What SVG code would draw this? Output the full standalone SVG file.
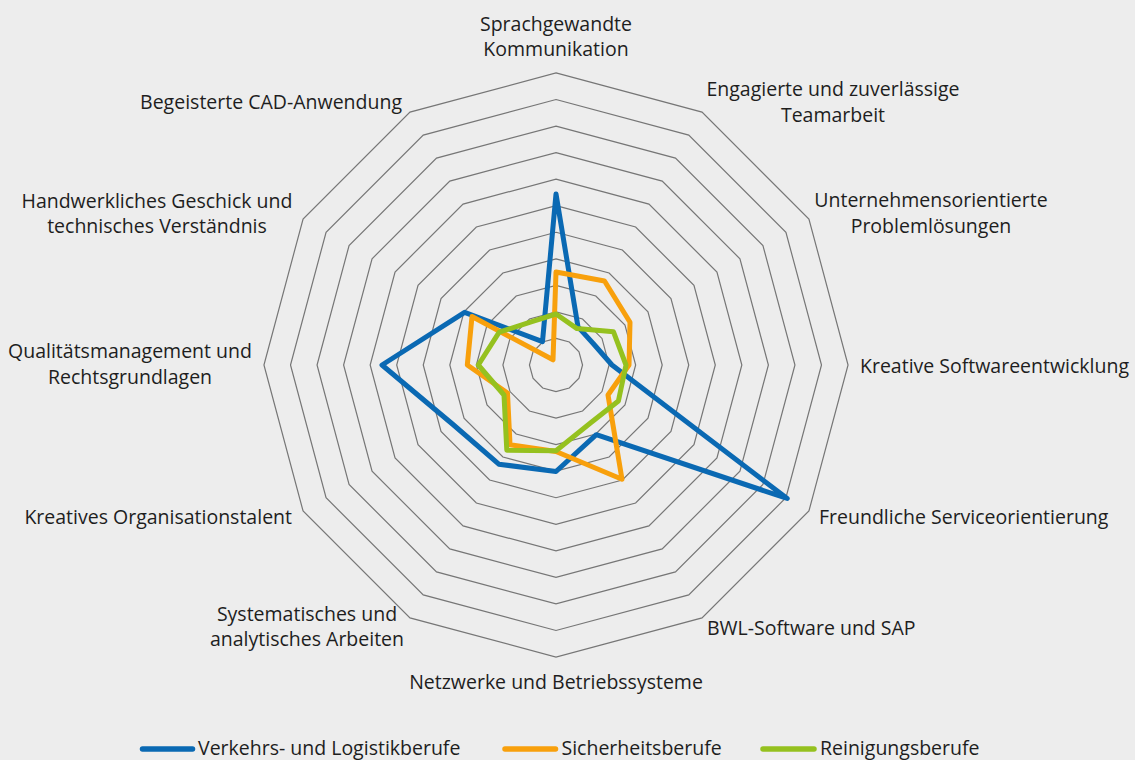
<svg xmlns="http://www.w3.org/2000/svg" xmlns:xlink="http://www.w3.org/1999/xlink" width="1135" height="760" viewBox="0 0 1135 760">
  <style>
    .lbl { font-family: "Open Sans", "Liberation Sans", sans-serif; font-size: 19.5px; fill: #1e1e1e; }
    .mid { text-anchor: middle; }
    .end { text-anchor: end; }
    .ring { fill: none; stroke: #767676; stroke-width: 1.2; vector-effect: non-scaling-stroke; }
    .series { fill: none; stroke-width: 5; stroke-linejoin: round; stroke-linecap: round; }
    .blue { stroke: #0a69b3; }
    .orange { stroke: #f8a00c; }
    .green { stroke: #95c11f; }
    .key { stroke-width: 5.5; stroke-linecap: round; }
  </style>
  <defs>
    <polygon id="dodeca" class="ring" points="0,-100 50,-86.603 86.603,-50 100,0 86.603,50 50,86.603 0,100 -50,86.603 -86.603,50 -100,0 -86.603,-50 -50,-86.603"/>
  </defs>
  <rect x="0" y="0" width="1135" height="760" fill="#ededed"/>

  <g id="grid">
    <use xlink:href="#dodeca" transform="translate(556,365) scale(0.2655)"/>
    <use xlink:href="#dodeca" transform="translate(556,365) scale(0.531)"/>
    <use xlink:href="#dodeca" transform="translate(556,365) scale(0.7965)"/>
    <use xlink:href="#dodeca" transform="translate(556,365) scale(1.062)"/>
    <use xlink:href="#dodeca" transform="translate(556,365) scale(1.3275)"/>
    <use xlink:href="#dodeca" transform="translate(556,365) scale(1.593)"/>
    <use xlink:href="#dodeca" transform="translate(556,365) scale(1.8585)"/>
    <use xlink:href="#dodeca" transform="translate(556,365) scale(2.124)"/>
    <use xlink:href="#dodeca" transform="translate(556,365) scale(2.3895)"/>
    <use xlink:href="#dodeca" transform="translate(556,365) scale(2.655)"/>
    <use xlink:href="#dodeca" transform="translate(556,365) scale(2.9205)"/>
  </g>

  <g id="connectors">
    <polygon id="series-verkehr" class="series blue" points="556,194 578,326.9 593.2,343.5 612,365 787.2,498.5 596.3,434.7 556,471.5 498.8,464.2 453,424.5 382,365 464.6,312.3 542.5,341.6"/>
    <polygon id="series-sicherheit" class="series orange" points="556,272 604.5,281 630,322.3 629,365 608,395 622,479.3 556,451.5 510,444.7 507.5,393 467.3,365 472,316.5 553,359.8"/>
    <polygon id="series-reinigung" class="series green" points="556,314 577,328.6 613.5,331.8 626,365 618.4,401 589.8,423.5 556,450.7 506.8,450.2 504,395 478.3,365 499.2,332.2 531.1,321.9"/>
  </g>

  <g id="axis-sprachgewandte">
    <text class="lbl mid" x="556" y="31">Sprachgewandte</text>
    <text class="lbl mid" x="556" y="56">Kommunikation</text>
  </g>
  <g id="axis-teamarbeit">
    <text class="lbl mid" x="833" y="96">Engagierte und zuverlässige</text>
    <text class="lbl mid" x="833" y="121.5">Teamarbeit</text>
  </g>
  <g id="axis-problemloesungen">
    <text class="lbl mid" x="931" y="207">Unternehmensorientierte</text>
    <text class="lbl mid" x="931" y="232.5">Problemlösungen</text>
  </g>
  <g id="axis-software">
    <text class="lbl" x="860" y="372.5">Kreative Softwareentwicklung</text>
  </g>
  <g id="axis-service">
    <text class="lbl" x="819" y="524">Freundliche Serviceorientierung</text>
  </g>
  <g id="axis-bwl">
    <text class="lbl" x="707" y="635">BWL-Software und SAP</text>
  </g>
  <g id="axis-netzwerke">
    <text class="lbl mid" x="556" y="689">Netzwerke und Betriebssysteme</text>
  </g>
  <g id="axis-systematisch">
    <text class="lbl mid" x="307" y="620.5">Systematisches und</text>
    <text class="lbl mid" x="307" y="646">analytisches Arbeiten</text>
  </g>
  <g id="axis-organisation">
    <text class="lbl end" x="292" y="524">Kreatives Organisationstalent</text>
  </g>
  <g id="axis-qualitaet">
    <text class="lbl mid" x="130" y="358">Qualitätsmanagement und</text>
    <text class="lbl mid" x="130" y="383.5">Rechtsgrundlagen</text>
  </g>
  <g id="axis-handwerk">
    <text class="lbl mid" x="157" y="207.5">Handwerkliches Geschick und</text>
    <text class="lbl mid" x="157" y="233">technisches Verständnis</text>
  </g>
  <g id="axis-cad">
    <text class="lbl end" x="402" y="109">Begeisterte CAD-Anwendung</text>
  </g>

  <g id="legend">
    <line class="key blue" x1="142.5" y1="749" x2="192.5" y2="749"/>
    <text class="lbl" x="198" y="755">Verkehrs- und Logistikberufe</text>
    <line class="key orange" x1="505" y1="749" x2="555.5" y2="749"/>
    <text class="lbl" x="561.5" y="755">Sicherheitsberufe</text>
    <line class="key green" x1="763" y1="749" x2="814" y2="749"/>
    <text class="lbl" x="820" y="755">Reinigungsberufe</text>
  </g>
</svg>
